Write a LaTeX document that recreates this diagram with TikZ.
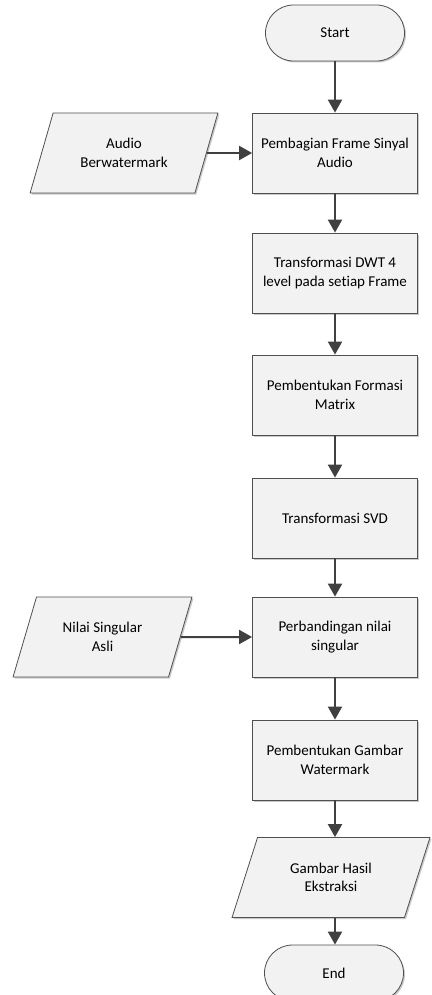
\documentclass[tikz,border=0pt]{standalone}
\usepackage{fontspec}
\setmainfont{Carlito}[Ligatures={NoCommon}]
\usetikzlibrary{shapes.geometric,shadows,arrows.meta}
\definecolor{boxfill}{HTML}{F2F2F2}
\definecolor{boxdraw}{HTML}{505050}
\definecolor{arrowc}{HTML}{404040}
\begin{document}
\begin{tikzpicture}[x=1pt,y=-1pt,
  base/.style={draw=boxdraw, line width=0.8pt, fill=boxfill, font=\fontsize{15}{18.5}\selectfont, align=center,
    drop shadow={shadow xshift=1.5pt, shadow yshift=-1.5pt, fill=black!35, opacity=0.6}},
  procbox/.style={base, rectangle, minimum width=165pt, minimum height=80pt, inner sep=0pt},
  termbox/.style={base, rectangle, rounded corners=28pt, minimum width=139pt, minimum height=56pt, inner sep=0pt},
  iobox/.style={base, trapezium, trapezium left angle=64, trapezium right angle=116, trapezium stretches=true,
    minimum height=80pt, inner sep=0pt},
  flow/.style={draw=arrowc, line width=2pt, -{Triangle[length=13pt,width=14pt]}}]
\useasboundingbox (0,0) rectangle (431,995);
\node[termbox] (start) at (335,33) {Start};
\node[procbox] (p1) at (335,153) {Pembagian Frame Sinyal\\Audio};
\node[iobox, minimum width=188pt] (audio) at (124,153) {Audio\\Berwatermark};
\node[procbox] (p2) at (335,273) {Transformasi DWT 4\\level pada setiap Frame};
\node[procbox] (p3) at (335,395) {Pembentukan Formasi\\Matrix};
\node[procbox] (p4) at (335,518) {Transformasi SVD};
\node[procbox] (p5) at (335,637) {Perbandingan nilai\\singular};
\node[iobox, minimum width=179pt] (nilai) at (102.5,637) {Nilai Singular\\Asli};
\node[procbox] (p6) at (335,760) {Pembentukan Gambar\\Watermark};
\node[iobox, minimum width=198pt] (hasil) at (331,877.5) {Gambar Hasil\\Ekstraksi};
\node[termbox] (end) at (334,973) {End};
\draw[flow] (start) -- (p1);
\draw[flow] (audio.east) -- (p1.west);
\draw[flow] (p1) -- (p2);
\draw[flow] (p2) -- (p3);
\draw[flow] (p3) -- (p4);
\draw[flow] (p4) -- (p5);
\draw[flow] (nilai.east) -- (p5.west);
\draw[flow] (p5) -- (p6);
\draw[flow] (p6) -- (p6 |- hasil.north);
\draw[flow] (p6 |- hasil.south) -- (p6 |- end.north);
\end{tikzpicture}
\end{document}
